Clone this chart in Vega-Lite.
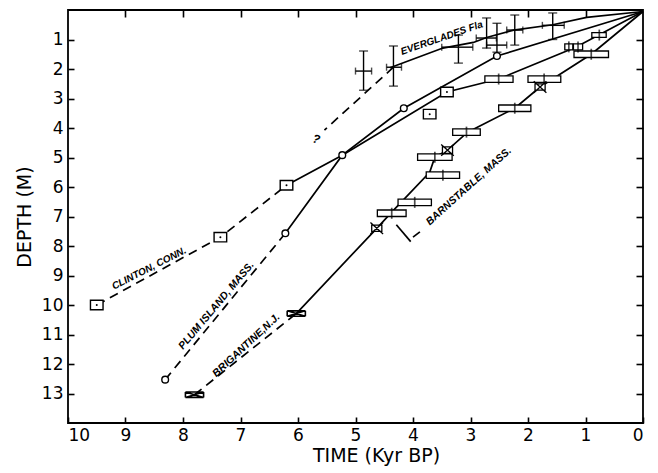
{
  "$schema": "https://vega.github.io/schema/vega-lite/v6.json",
  "width": 575,
  "height": 413,
  "autosize": {"type": "none"},
  "padding": {"left": 68, "top": 10, "right": 15, "bottom": 50},
  "background": "white",
  "config": {
    "view": {"stroke": "black", "strokeWidth": 1.8},
    "font": "DejaVu Sans",
    "axis": {"domain": false, "grid": false, "tickColor": "black", "tickWidth": 1.6, "labelColor": "black", "titleColor": "black", "labelFont": "DejaVu Sans", "titleFont": "DejaVu Sans", "titleFontWeight": "normal"}
  },
  "resolve": {"axis": {"x": "independent", "y": "independent"}},
  "datasets": {
    "solid": [
      {"seg": "everglades", "ord": 1, "t": 4.40, "d": 1.96},
      {"seg": "everglades", "ord": 2, "t": 3.48, "d": 1.29},
      {"seg": "everglades", "ord": 3, "t": 2.95, "d": 1.10},
      {"seg": "everglades", "ord": 4, "t": 2.72, "d": 0.93},
      {"seg": "everglades", "ord": 5, "t": 2.25, "d": 0.68},
      {"seg": "everglades", "ord": 6, "t": 1.57, "d": 0.50},
      {"seg": "everglades", "ord": 7, "t": 0.98, "d": 0.25},
      {"seg": "everglades", "ord": 8, "t": 0.0, "d": 0.05},
      {"seg": "plum", "ord": 1, "t": 6.22, "d": 7.57},
      {"seg": "plum", "ord": 2, "t": 5.23, "d": 4.92},
      {"seg": "plum", "ord": 3, "t": 4.16, "d": 3.33},
      {"seg": "plum", "ord": 4, "t": 2.54, "d": 1.56},
      {"seg": "plum", "ord": 5, "t": 0.0, "d": 0.05},
      {"seg": "clinton", "ord": 1, "t": 6.2, "d": 5.94},
      {"seg": "clinton", "ord": 2, "t": 5.23, "d": 4.92},
      {"seg": "clinton", "ord": 3, "t": 3.41, "d": 2.78},
      {"seg": "clinton", "ord": 4, "t": 2.51, "d": 2.34},
      {"seg": "clinton", "ord": 5, "t": 1.17, "d": 1.26},
      {"seg": "clinton", "ord": 6, "t": 0.0, "d": 0.05},
      {"seg": "barnstable", "ord": 1, "t": 6.03, "d": 10.29},
      {"seg": "barnstable", "ord": 2, "t": 4.63, "d": 7.40},
      {"seg": "barnstable", "ord": 3, "t": 4.37, "d": 6.85},
      {"seg": "barnstable", "ord": 4, "t": 3.71, "d": 5.50},
      {"seg": "barnstable", "ord": 5, "t": 3.62, "d": 4.99},
      {"seg": "barnstable", "ord": 6, "t": 3.40, "d": 4.75},
      {"seg": "barnstable", "ord": 7, "t": 3.05, "d": 4.14},
      {"seg": "barnstable", "ord": 8, "t": 2.23, "d": 3.33},
      {"seg": "barnstable", "ord": 9, "t": 1.79, "d": 2.61},
      {"seg": "barnstable", "ord": 10, "t": 0.9, "d": 1.5},
      {"seg": "barnstable", "ord": 11, "t": 0.0, "d": 0.05},
      {"seg": "leader", "ord": 1, "t": 4.29, "d": 7.28},
      {"seg": "leader", "ord": 2, "t": 4.04, "d": 7.85},
      {"seg": "leader2", "ord": 1, "t": 4.0, "d": 7.70},
      {"seg": "leader2", "ord": 2, "t": 3.88, "d": 7.52}
    ],
    "dashed": [
      {"seg": "clinton", "ord": 1, "t": 9.5, "d": 10.0},
      {"seg": "clinton", "ord": 2, "t": 7.35, "d": 7.7},
      {"seg": "clinton", "ord": 3, "t": 6.2, "d": 5.94},
      {"seg": "plum", "ord": 1, "t": 8.31, "d": 12.53},
      {"seg": "plum", "ord": 2, "t": 6.22, "d": 7.57},
      {"seg": "brigantine", "ord": 1, "t": 7.8, "d": 13.04},
      {"seg": "brigantine", "ord": 2, "t": 6.03, "d": 10.29},
      {"seg": "everglades", "ord": 1, "t": 4.34, "d": 1.94},
      {"seg": "everglades", "ord": 2, "t": 5.54, "d": 4.07}
    ],
    "evg": [
      {"t": 4.86, "d": 2.07, "tlo": 4.72, "thi": 5.0, "dlo": 1.39, "dhi": 2.72},
      {"t": 4.34, "d": 1.94, "tlo": 4.2, "thi": 4.46, "dlo": 1.22, "dhi": 2.58},
      {"t": 3.21, "d": 1.26, "tlo": 2.96, "thi": 3.5, "dlo": 0.85, "dhi": 1.8},
      {"t": 2.72, "d": 0.95, "tlo": 2.55, "thi": 2.9, "dlo": 0.27, "dhi": 1.29},
      {"t": 2.54, "d": 1.19, "tlo": 2.37, "thi": 2.72, "dlo": 0.45, "dhi": 1.43},
      {"t": 2.23, "d": 0.68, "tlo": 2.09, "thi": 2.37, "dlo": 0.17, "dhi": 1.19},
      {"t": 1.57, "d": 0.52, "tlo": 1.37, "thi": 1.75, "dlo": 0.1, "dhi": 1.0}
    ],
    "barn": [
      {"t": 4.37, "d": 6.89, "tlo": 4.12, "thi": 4.62, "dlo": 6.78, "dhi": 7.0},
      {"t": 3.97, "d": 6.52, "tlo": 3.68, "thi": 4.26, "dlo": 6.41, "dhi": 6.63},
      {"t": 3.48, "d": 5.60, "tlo": 3.19, "thi": 3.77, "dlo": 5.49, "dhi": 5.71},
      {"t": 3.62, "d": 4.99, "tlo": 3.32, "thi": 3.92, "dlo": 4.88, "dhi": 5.10},
      {"t": 3.07, "d": 4.14, "tlo": 2.83, "thi": 3.31, "dlo": 4.03, "dhi": 4.25},
      {"t": 2.23, "d": 3.33, "tlo": 1.95, "thi": 2.51, "dlo": 3.22, "dhi": 3.44},
      {"t": 1.72, "d": 2.34, "tlo": 1.43, "thi": 2.0, "dlo": 2.23, "dhi": 2.45},
      {"t": 2.51, "d": 2.34, "tlo": 2.26, "thi": 2.75, "dlo": 2.23, "dhi": 2.45},
      {"t": 0.9, "d": 1.5, "tlo": 0.6, "thi": 1.2, "dlo": 1.39, "dhi": 1.61},
      {"t": 1.29, "d": 1.25, "tlo": 1.22, "thi": 1.36, "dlo": 1.15, "dhi": 1.35},
      {"t": 1.13, "d": 1.25, "tlo": 1.05, "thi": 1.21, "dlo": 1.15, "dhi": 1.35},
      {"t": 0.76, "d": 0.85, "tlo": 0.64, "thi": 0.89, "dlo": 0.77, "dhi": 0.93}
    ],
    "plum": [
      {"t": 8.31, "d": 12.53},
      {"t": 6.22, "d": 7.57},
      {"t": 5.23, "d": 4.92},
      {"t": 4.16, "d": 3.33},
      {"t": 2.54, "d": 1.56}
    ],
    "clinton": [
      {"t": 9.5, "d": 10.0},
      {"t": 7.35, "d": 7.7},
      {"t": 6.2, "d": 5.94},
      {"t": 3.41, "d": 2.78},
      {"t": 3.71, "d": 3.53}
    ],
    "xbox": [
      {"t": 4.63, "d": 7.40},
      {"t": 3.40, "d": 4.75},
      {"t": 1.79, "d": 2.61}
    ],
    "brig": [
      {"t": 6.03, "d": 10.29},
      {"t": 7.8, "d": 13.04}
    ]
  },
  "layer": [
    {
      "data": {"name": "solid"},
      "mark": {"type": "line", "color": "black", "strokeWidth": 1.7},
      "encoding": {
        "x": {"field": "t", "type": "quantitative", "scale": {"domain": [0, 10], "reverse": true, "nice": false, "zero": false},
              "axis": {"orient": "bottom", "offset": -6, "values": [0,1,2,3,4,5,6,7,8,9,10], "format": "d", "tickSize": 6, "labelPadding": 4, "labelFontSize": 17, "title": "TIME (Kyr BP)", "titleFontSize": 19, "titlePadding": 3, "titleX": 308}},
        "y": {"field": "d", "type": "quantitative", "scale": {"domain": [0, 14], "reverse": true, "nice": false, "zero": false},
              "axis": {"orient": "left", "offset": -6, "values": [1,2,3,4,5,6,7,8,9,10,11,12,13], "format": "d", "tickSize": 6, "labelPadding": 5, "labelFontSize": 17, "title": "DEPTH (M)", "titleFontSize": 19, "titlePadding": 7}},
        "detail": {"field": "seg"},
        "order": {"field": "ord", "type": "quantitative"}
      }
    },
    {
      "data": {"name": "dashed"},
      "mark": {"type": "line", "color": "black", "strokeWidth": 1.7, "strokeDash": [9, 6]},
      "encoding": {
        "x": {"field": "t", "type": "quantitative", "scale": {"domain": [0, 10], "reverse": true, "nice": false, "zero": false},
              "axis": {"orient": "top", "offset": -7, "values": [1,2,3,4,5,6,7,8,9], "labels": false, "tickSize": 7, "title": null}},
        "y": {"field": "d", "type": "quantitative", "scale": {"domain": [0, 14], "reverse": true, "nice": false, "zero": false},
              "axis": {"orient": "right", "offset": -7, "values": [1,2,3,4,5,6,7,8,9,10,11,12,13], "labels": false, "tickSize": 7, "title": null}},
        "detail": {"field": "seg"},
        "order": {"field": "ord", "type": "quantitative"}
      }
    },
    {
      "data": {"name": "evg"},
      "mark": {"type": "rule", "color": "black", "strokeWidth": 1.4},
      "encoding": {
        "x": {"field": "t", "type": "quantitative", "scale": {"domain": [0, 10], "reverse": true, "nice": false}, "axis": null},
        "y": {"field": "dlo", "type": "quantitative", "scale": {"domain": [0, 14], "reverse": true, "nice": false}, "axis": null},
        "y2": {"field": "dhi"}
      }
    },
    {
      "data": {"name": "evg"},
      "mark": {"type": "rule", "color": "black", "strokeWidth": 1.4},
      "encoding": {
        "x": {"field": "tlo", "type": "quantitative", "scale": {"domain": [0, 10], "reverse": true, "nice": false}, "axis": null},
        "x2": {"field": "thi"},
        "y": {"field": "d", "type": "quantitative", "scale": {"domain": [0, 14], "reverse": true, "nice": false}, "axis": null}
      }
    },
    {
      "data": {"name": "evg"},
      "mark": {"type": "tick", "color": "black", "orient": "horizontal", "size": 9, "thickness": 1.4},
      "encoding": {
        "x": {"field": "t", "type": "quantitative", "scale": {"domain": [0, 10], "reverse": true, "nice": false}, "axis": null},
        "y": {"field": "dlo", "type": "quantitative", "scale": {"domain": [0, 14], "reverse": true, "nice": false}, "axis": null}
      }
    },
    {
      "data": {"name": "evg"},
      "mark": {"type": "tick", "color": "black", "orient": "horizontal", "size": 9, "thickness": 1.4},
      "encoding": {
        "x": {"field": "t", "type": "quantitative", "scale": {"domain": [0, 10], "reverse": true, "nice": false}, "axis": null},
        "y": {"field": "dhi", "type": "quantitative", "scale": {"domain": [0, 14], "reverse": true, "nice": false}, "axis": null}
      }
    },
    {
      "data": {"name": "evg"},
      "mark": {"type": "tick", "color": "black", "orient": "vertical", "size": 7, "thickness": 1.4},
      "encoding": {
        "x": {"field": "tlo", "type": "quantitative", "scale": {"domain": [0, 10], "reverse": true, "nice": false}, "axis": null},
        "y": {"field": "d", "type": "quantitative", "scale": {"domain": [0, 14], "reverse": true, "nice": false}, "axis": null}
      }
    },
    {
      "data": {"name": "evg"},
      "mark": {"type": "tick", "color": "black", "orient": "vertical", "size": 7, "thickness": 1.4},
      "encoding": {
        "x": {"field": "thi", "type": "quantitative", "scale": {"domain": [0, 10], "reverse": true, "nice": false}, "axis": null},
        "y": {"field": "d", "type": "quantitative", "scale": {"domain": [0, 14], "reverse": true, "nice": false}, "axis": null}
      }
    },
    {
      "data": {"name": "barn"},
      "mark": {"type": "rect", "fill": "white", "stroke": "black", "strokeWidth": 1.3},
      "encoding": {
        "x": {"field": "tlo", "type": "quantitative", "scale": {"domain": [0, 10], "reverse": true, "nice": false}, "axis": null},
        "x2": {"field": "thi"},
        "y": {"field": "dlo", "type": "quantitative", "scale": {"domain": [0, 14], "reverse": true, "nice": false}, "axis": null},
        "y2": {"field": "dhi"}
      }
    },
    {
      "data": {"name": "barn"},
      "mark": {"type": "tick", "color": "black", "orient": "vertical", "size": 11, "thickness": 1.7},
      "encoding": {
        "x": {"field": "t", "type": "quantitative", "scale": {"domain": [0, 10], "reverse": true, "nice": false}, "axis": null},
        "y": {"field": "d", "type": "quantitative", "scale": {"domain": [0, 14], "reverse": true, "nice": false}, "axis": null}
      }
    },
    {
      "data": {"name": "plum"},
      "mark": {"type": "point", "shape": "circle", "filled": false, "fill": "white", "fillOpacity": 1, "stroke": "black", "strokeWidth": 1.4, "size": 45, "opacity": 1},
      "encoding": {
        "x": {"field": "t", "type": "quantitative", "scale": {"domain": [0, 10], "reverse": true, "nice": false}, "axis": null},
        "y": {"field": "d", "type": "quantitative", "scale": {"domain": [0, 14], "reverse": true, "nice": false}, "axis": null}
      }
    },
    {
      "data": {"name": "clinton"},
      "mark": {"type": "point", "shape": "M-1.2,-0.9L1.2,-0.9L1.2,0.9L-1.2,0.9Z", "filled": false, "fill": "white", "fillOpacity": 1, "stroke": "black", "strokeWidth": 1.4, "size": 110, "opacity": 1},
      "encoding": {
        "x": {"field": "t", "type": "quantitative", "scale": {"domain": [0, 10], "reverse": true, "nice": false}, "axis": null},
        "y": {"field": "d", "type": "quantitative", "scale": {"domain": [0, 14], "reverse": true, "nice": false}, "axis": null}
      }
    },
    {
      "data": {"name": "clinton"},
      "mark": {"type": "point", "shape": "circle", "filled": true, "color": "black", "size": 4, "opacity": 1},
      "encoding": {
        "x": {"field": "t", "type": "quantitative", "scale": {"domain": [0, 10], "reverse": true, "nice": false}, "axis": null},
        "y": {"field": "d", "type": "quantitative", "scale": {"domain": [0, 14], "reverse": true, "nice": false}, "axis": null}
      }
    },
    {
      "data": {"name": "xbox"},
      "mark": {"type": "point", "shape": "M-0.8,-0.5L0.8,-0.5L0.8,0.5L-0.8,0.5ZM-1,-0.9L1,0.9M1,-0.9L-1,0.9", "filled": false, "fill": "white", "fillOpacity": 1, "stroke": "black", "strokeWidth": 1.3, "size": 160, "opacity": 1},
      "encoding": {
        "x": {"field": "t", "type": "quantitative", "scale": {"domain": [0, 10], "reverse": true, "nice": false}, "axis": null},
        "y": {"field": "d", "type": "quantitative", "scale": {"domain": [0, 14], "reverse": true, "nice": false}, "axis": null}
      }
    },
    {
      "data": {"name": "brig"},
      "mark": {"type": "point", "shape": "M-1,-0.3L1,-0.3M-1,0.3L1,0.3M-1,-0.3L1,0.3M1,-0.3L-1,0.3M-1,-0.3L-1,0.3M1,-0.3L1,0.3", "filled": false, "stroke": "black", "strokeWidth": 1.6, "size": 330, "opacity": 1},
      "encoding": {
        "x": {"field": "t", "type": "quantitative", "scale": {"domain": [0, 10], "reverse": true, "nice": false}, "axis": null},
        "y": {"field": "d", "type": "quantitative", "scale": {"domain": [0, 14], "reverse": true, "nice": false}, "axis": null}
      }
    },
    {
      "data": {"values": [{"label": "CLINTON, CONN.", "t": 8.59, "d": 8.76}]},
      "mark": {"type": "text", "angle": 333, "font": "Liberation Sans", "fontStyle": "italic", "fontWeight": "bold", "fontSize": 10, "color": "black"},
      "encoding": {
        "x": {"field": "t", "type": "quantitative", "scale": {"domain": [0, 10], "reverse": true, "nice": false}, "axis": null},
        "y": {"field": "d", "type": "quantitative", "scale": {"domain": [0, 14], "reverse": true, "nice": false}, "axis": null},
        "text": {"field": "label"}
      }
    },
    {
      "data": {"values": [{"label": "PLUM  ISLAND,  MASS.", "t": 7.42, "d": 10.02}]},
      "mark": {"type": "text", "angle": 310, "font": "Liberation Sans", "fontStyle": "italic", "fontWeight": "bold", "fontSize": 10.5, "color": "black"},
      "encoding": {
        "x": {"field": "t", "type": "quantitative", "scale": {"domain": [0, 10], "reverse": true, "nice": false}, "axis": null},
        "y": {"field": "d", "type": "quantitative", "scale": {"domain": [0, 14], "reverse": true, "nice": false}, "axis": null},
        "text": {"field": "label"}
      }
    },
    {
      "data": {"values": [{"label": "BRIGANTINE,N.J.", "t": 6.9, "d": 11.37}]},
      "mark": {"type": "text", "angle": 317, "font": "Liberation Sans", "fontStyle": "italic", "fontWeight": "bold", "fontSize": 10.5, "color": "black"},
      "encoding": {
        "x": {"field": "t", "type": "quantitative", "scale": {"domain": [0, 10], "reverse": true, "nice": false}, "axis": null},
        "y": {"field": "d", "type": "quantitative", "scale": {"domain": [0, 14], "reverse": true, "nice": false}, "axis": null},
        "text": {"field": "label"}
      }
    },
    {
      "data": {"values": [{"label": "BARNSTABLE, MASS.", "t": 3.03, "d": 5.98}]},
      "mark": {"type": "text", "angle": 318, "font": "Liberation Sans", "fontStyle": "italic", "fontWeight": "bold", "fontSize": 10.5, "color": "black"},
      "encoding": {
        "x": {"field": "t", "type": "quantitative", "scale": {"domain": [0, 10], "reverse": true, "nice": false}, "axis": null},
        "y": {"field": "d", "type": "quantitative", "scale": {"domain": [0, 14], "reverse": true, "nice": false}, "axis": null},
        "text": {"field": "label"}
      }
    },
    {
      "data": {"values": [{"label": "EVERGLADES  Fla", "t": 3.5, "d": 0.95}]},
      "mark": {"type": "text", "angle": 341, "font": "Liberation Sans", "fontStyle": "italic", "fontWeight": "bold", "fontSize": 10, "color": "black"},
      "encoding": {
        "x": {"field": "t", "type": "quantitative", "scale": {"domain": [0, 10], "reverse": true, "nice": false}, "axis": null},
        "y": {"field": "d", "type": "quantitative", "scale": {"domain": [0, 14], "reverse": true, "nice": false}, "axis": null},
        "text": {"field": "label"}
      }
    },
    {
      "data": {"values": [{"label": "?", "t": 5.68, "d": 4.38}]},
      "mark": {"type": "text", "angle": 15, "font": "Liberation Sans", "fontStyle": "italic", "fontSize": 12, "fontWeight": "bold", "color": "black"},
      "encoding": {
        "x": {"field": "t", "type": "quantitative", "scale": {"domain": [0, 10], "reverse": true, "nice": false}, "axis": null},
        "y": {"field": "d", "type": "quantitative", "scale": {"domain": [0, 14], "reverse": true, "nice": false}, "axis": null},
        "text": {"field": "label"}
      }
    }
  ]
}
